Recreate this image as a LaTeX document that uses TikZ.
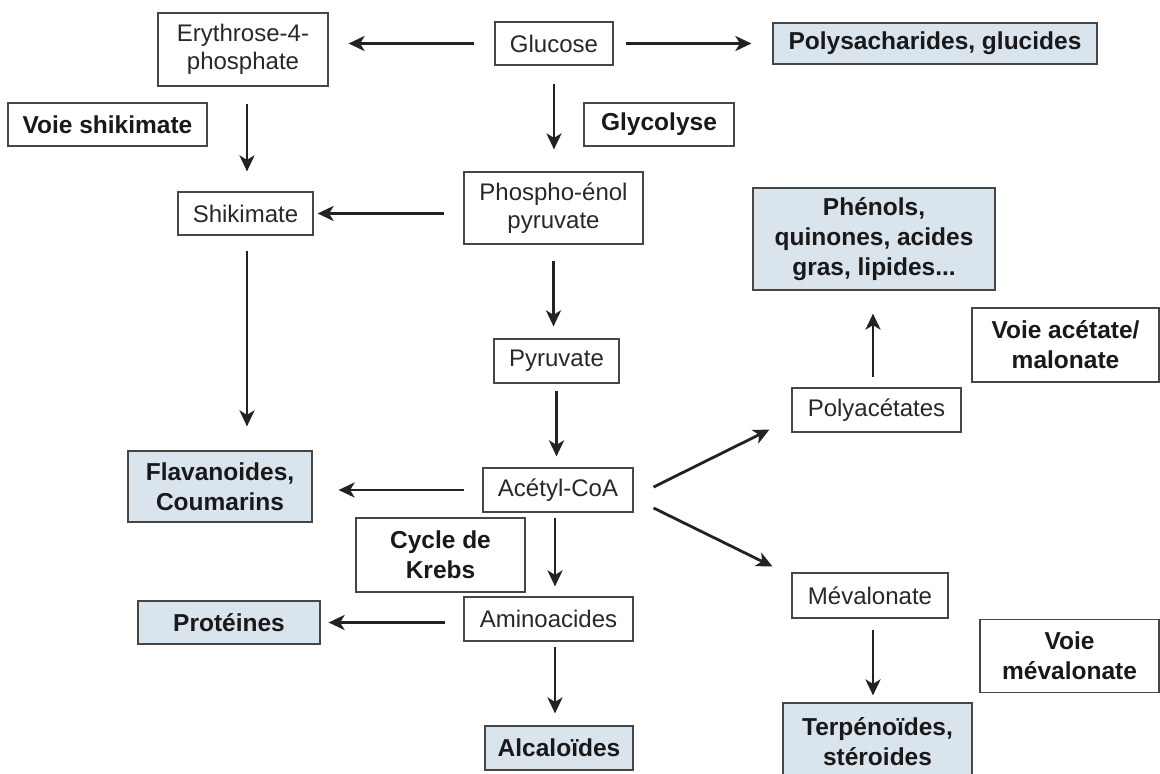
\documentclass[tikz,border=0pt]{standalone}
\usepackage{fontspec}
\setmainfont{Liberation Sans}
\usetikzlibrary{arrows.meta,calc}
\definecolor{prodfill}{RGB}{218,228,236}
\definecolor{boxc}{RGB}{70,70,70}
\definecolor{arrc}{RGB}{34,34,34}
\definecolor{txtc}{RGB}{40,40,40}
\begin{document}
\begin{tikzpicture}[x=1pt,y=-1pt,
  box/.style={draw=boxc, line width=1.2pt, align=center, inner sep=0pt, text=txtc, font=\fontsize{24}{28}\selectfont},
  prod/.style={box, fill=prodfill, text=black!90, font=\fontsize{24.5}{30}\selectfont\bfseries},
  lab/.style={box, text=black!90, font=\fontsize{24.5}{30}\selectfont\bfseries},
  arr/.style={draw=arrc, line width=2.8pt, -{Stealth[length=16pt,width=15pt,inset=4.5pt]}},
]
\useasboundingbox (0,0) rectangle (1160,774);
\fill[white] (0,0) rectangle (1160,774);

% nodes
\node[box, minimum width=170pt, minimum height=73pt] (ery) at (243,49.5) {Erythrose-4-\\phosphate};
\node[box, minimum width=118pt, minimum height=43pt] (glc) at (554,43.5) {Glucose};
\node[prod, minimum width=324pt, minimum height=41pt] (poly) at (935,43.5) {Polysacharides, glucides};
\node[lab, minimum width=199pt, minimum height=43pt] (vshik) at (107.5,124.5) {Voie shikimate};
\node[lab, minimum width=150pt, minimum height=43pt] (glyco) at (659,124.5) {Glycolyse};
\node[box, minimum width=179pt, minimum height=72pt] (pep) at (553.5,208) {Phospho-énol\\pyruvate};
\node[box, minimum width=135pt, minimum height=43pt] (shik) at (245.5,213.5) {Shikimate};
\node[prod, minimum width=242pt, minimum height=102pt] (phen) at (874,239) {Phénols,\\quinones, acides\\gras, lipides...};
\node[lab, minimum width=187pt, minimum height=74pt] (vacet) at (1065.5,345) {Voie acétate/\\malonate};
\node[box, minimum width=125pt, minimum height=44pt] (pyr) at (556.5,361) {Pyruvate};
\node[box, minimum width=169pt, minimum height=44pt] (polyac) at (876.5,410) {Polyacétates};
\node[prod, minimum width=184pt, minimum height=71pt] (flav) at (220,486.5) {Flavanoides,\\Coumarins};
\node[box, minimum width=150pt, minimum height=44pt] (acet) at (558,490) {Acétyl-CoA};
\node[lab, minimum width=169pt, minimum height=74pt] (krebs) at (440.5,555) {Cycle de\\Krebs};
\node[box, minimum width=156pt, minimum height=45pt] (mev) at (870,595.5) {Mévalonate};
\node[prod, minimum width=182pt, minimum height=43pt] (prot) at (229,622.5) {Protéines};
\node[box, minimum width=169pt, minimum height=44pt] (amino) at (548.5,619) {Aminoacides};
\node[lab, minimum width=179pt, minimum height=73pt] (vmev) at (1069.5,656) {Voie\\mévalonate};
\node[prod, minimum width=148pt, minimum height=44pt] (alcal) at (559,748) {Alcaloïdes};
\node[prod, minimum width=189pt, minimum height=78pt] (terp) at (877.5,742) {Terpénoïdes,\\stéroides};

% connectors
\draw[arr, shorten <=20pt, shorten >=20pt] (glc.west) -- (glc.west -| ery.east);
\draw[arr, shorten <=12pt, shorten >=21pt] (glc.east) -- (glc.east -| poly.west);
\draw[arr, shorten <=18pt, shorten >=22pt] (glc.south) -- (glc.south |- pep.north);
\draw[arr, shorten <=17pt, shorten >=20pt] ($(ery.south)+(4,0)$) -- ($(ery.south |- shik.north)+(4,0)$);
\draw[arr, shorten <=19pt, shorten >=4pt] (pep.west |- shik.east) -- (shik.east);
\draw[arr, shorten <=16pt, shorten >=12pt] (pep.south) -- (pep.south |- pyr.north);
\draw[arr, shorten <=7pt, shorten >=11pt] (pyr.south) -- (pyr.south |- acet.north);
\draw[arr, shorten <=15pt, shorten >=24pt] ($(shik.south)+(1.5,0)$) -- ($(shik.south |- flav.north)+(1.5,0)$);
\draw[arr, shorten <=18pt, shorten >=26pt] (acet.west) -- (acet.west -| flav.east);
\draw[arr] ($(acet.east)+(20,-3)$) -- ($(polyac.south west)+(-22,-3)$);
\draw[arr] ($(acet.east)+(20,18)$) -- ($(mev.north west)+(-19,-6)$);
\draw[arr, shorten <=5pt, shorten >=10pt] ($(acet.south)+(-3,0)$) -- ($(acet.south |- amino.north)+(-3,0)$);
\draw[arr, shorten <=18pt, shorten >=8pt] (amino.west |- prot.east) -- (prot.east);
\draw[arr, shorten <=5pt, shorten >=12pt] ($(amino.south)+(6.5,0)$) -- ($(amino.south |- alcal.north)+(6.5,0)$);
\draw[arr, shorten <=10pt, shorten >=23pt] ($(polyac.north)+(-3.5,0)$) -- ($(polyac.north |- phen.south)+(-3.5,0)$);
\draw[arr, shorten <=11pt, shorten >=7pt] ($(mev.south)+(3,0)$) -- ($(mev.south |- terp.north)+(3,0)$);
\end{tikzpicture}
\end{document}
